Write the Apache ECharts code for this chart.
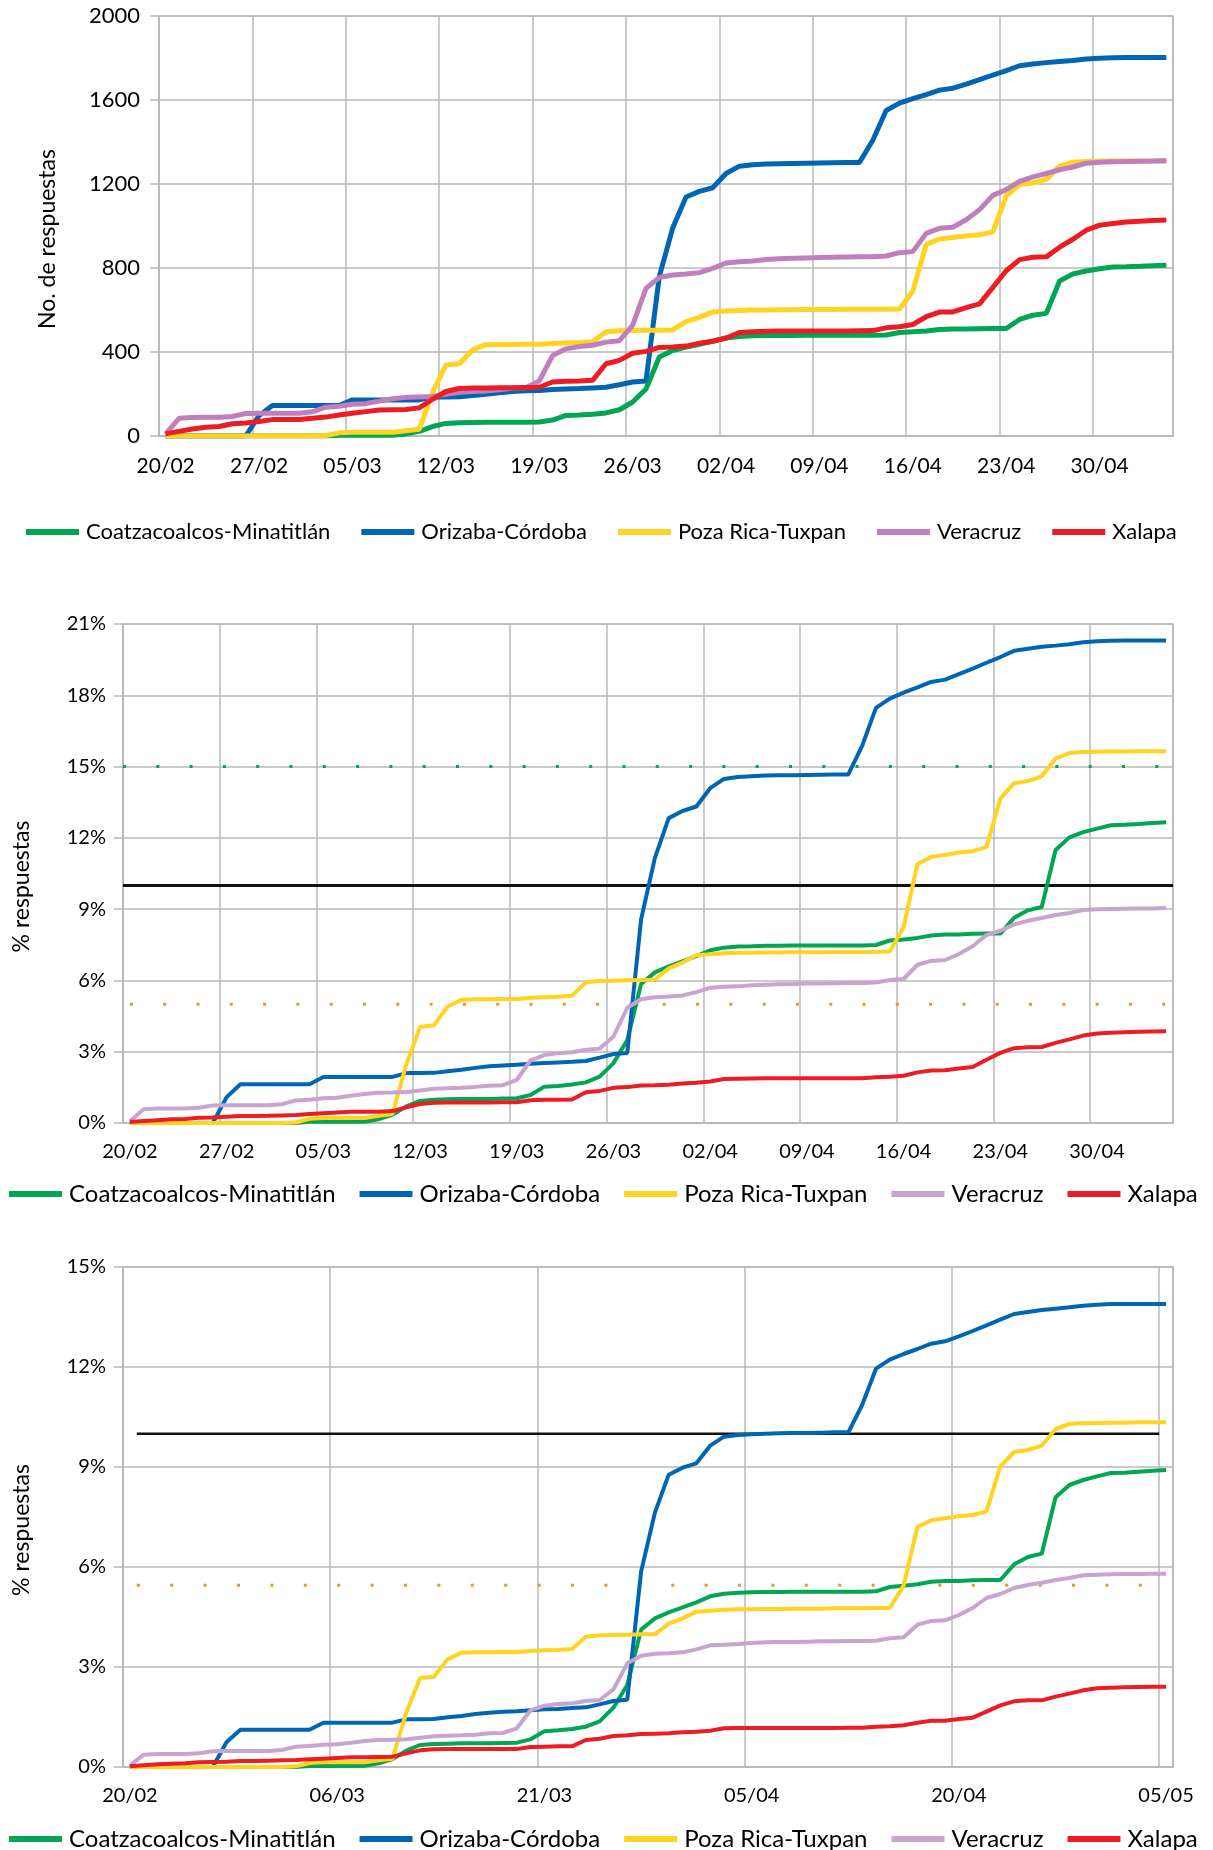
<!doctype html>
<html>
<head>
<meta charset="utf-8">
<title>Respuestas por región</title>
<script src="https://cdn.jsdelivr.net/npm/echarts@6/dist/echarts.min.js"></script>
<style>
  body { margin: 0; background: #fff; }
  .panel { position: absolute; left: 0; width: 1213px; }
</style>
</head>
<body>
<div id="g1" class="panel" style="top:0;height:560px"></div>
<div id="g2" class="panel" style="top:600px;height:620px"></div>
<div id="g3" class="panel" style="top:1220px;height:630px"></div>
<script>
var nombres = ['Coatzacoalcos-Minatitlán', 'Orizaba-Córdoba', 'Poza Rica-Tuxpan', 'Veracruz', 'Xalapa'];

var dias = ['20/02','21/02','22/02','23/02','24/02','25/02','26/02','27/02','28/02','29/02',
  '01/03','02/03','03/03','04/03','05/03','06/03','07/03','08/03','09/03','10/03',
  '11/03','12/03','13/03','14/03','15/03','16/03','17/03','18/03','19/03','20/03',
  '21/03','22/03','23/03','24/03','25/03','26/03','27/03','28/03','29/03','30/03',
  '31/03','01/04','02/04','03/04','04/04','05/04','06/04','07/04','08/04','09/04',
  '10/04','11/04','12/04','13/04','14/04','15/04','16/04','17/04','18/04','19/04',
  '20/04','21/04','22/04','23/04','24/04','25/04','26/04','27/04','28/04','29/04',
  '30/04','01/05','02/05','03/05','04/05','05/05'];

// No. de respuestas acumuladas
var respCoatza = [0,0,0,0,0,0,0,0,0,0, 0,0,0,3,3,3,3,4,10,22, 45,60,63,64,65,65,65,66,67,76,
  98,100,104,110,125,162,224,376,407,423, 437,451,467,474,477,478,479,479,480,480,
  480,480,480,480,481,493,496,500,507,509, 509,511,512,512,555,575,584,738,772,786,
  796,805,806,808,811,813];
var respOrizaba = [0,0,0,0,0,0,0,97,145,145, 145,145,145,145,172,172,172,172,172,172,
  186,186,187,193,199,206,212,215,217,221, 224,226,229,232,244,257,262,760,990,1138,
  1165,1182,1250,1285,1292,1295,1297,1298,1299,1300, 1301,1302,1302,1408,1550,1585,1607,1626,1647,1656,
  1676,1697,1719,1740,1763,1771,1778,1783,1788,1795, 1799,1801,1802,1802,1802,1802];
var respPoza = [0,0,0,0,0,0,0,0,0,0, 0,0,2,15,18,18,18,18,25,32,
  205,338,344,410,435,436,436,437,437,441, 443,445,449,496,501,502,503,504,505,545,
  565,591,595,598,600,600,601,601,602,602, 602,603,603,603,604,605,690,912,938,945,
  953,958,972,1143,1198,1205,1222,1285,1304,1307, 1308,1309,1309,1310,1310,1310];
var respVeracruz = [10,84,88,89,89,93,107,108,108,108, 108,115,137,142,151,154,166,177,184,186,
  188,199,208,212,214,220,228,230,262,383, 415,426,432,447,454,527,703,755,767,771,
  778,798,824,830,833,840,844,846,848,850, 851,852,853,854,857,873,878,965,989,994,
  1030,1078,1146,1173,1212,1234,1250,1268,1281,1299, 1304,1306,1307,1308,1309,1311];
var respXalapa = [10,22,33,42,45,58,62,69,78,78, 79,84,90,100,108,116,124,125,126,134,
  175,212,226,228,229,230,230,231,232,257, 261,262,265,344,360,394,403,422,424,428,
  442,451,466,493,497,499,500,500,500,500, 500,500,501,502,515,520,531,568,590,591,
  611,629,708,787,840,851,853,899,937,980, 1004,1012,1019,1023,1026,1028];

// % respuestas (segunda gráfica)
var pct2Coatza = [0,0,0,0,0,0,0,0,0,0, 0,0,0,0.05,0.05,0.05,0.05,0.06,0.16,0.34,
  0.70,0.93,0.98,1.00,1.01,1.01,1.01,1.03,1.04,1.18, 1.53,1.56,1.62,1.71,1.95,2.52,3.49,5.85,6.34,6.59,
  6.80,7.02,7.27,7.38,7.43,7.44,7.46,7.46,7.47,7.47, 7.47,7.47,7.47,7.47,7.49,7.68,7.72,7.79,7.89,7.93,
  7.93,7.96,7.97,7.97,8.64,8.95,9.09,11.49,12.02,12.24, 12.39,12.53,12.55,12.58,12.63,12.66];
var pct2Orizaba = [0,0,0,0,0,0,0,1.09,1.63,1.63, 1.63,1.63,1.63,1.63,1.94,1.94,1.94,1.94,1.94,1.94,
  2.10,2.10,2.11,2.18,2.24,2.32,2.39,2.42,2.45,2.49, 2.52,2.55,2.58,2.61,2.75,2.90,2.95,8.57,11.16,12.83,
  13.13,13.32,14.09,14.48,14.56,14.59,14.62,14.63,14.64,14.65, 14.66,14.67,14.67,15.87,17.47,17.86,18.11,18.33,18.56,18.66,
  18.89,19.12,19.37,19.61,19.87,19.96,20.04,20.09,20.15,20.23, 20.27,20.30,20.31,20.31,20.31,20.31];
var pct2Poza = [0,0,0,0,0,0,0,0,0,0, 0,0,0.02,0.18,0.21,0.21,0.21,0.21,0.30,0.38,
  2.45,4.04,4.11,4.90,5.19,5.21,5.21,5.22,5.22,5.27, 5.29,5.31,5.36,5.92,5.98,5.99,6.01,6.02,6.03,6.51,
  6.75,7.06,7.10,7.14,7.16,7.16,7.18,7.18,7.19,7.19, 7.19,7.20,7.20,7.20,7.21,7.22,8.24,10.89,11.20,11.28,
  11.38,11.44,11.61,13.65,14.30,14.39,14.59,15.34,15.57,15.61, 15.62,15.63,15.63,15.64,15.64,15.64];
var pct2Veracruz = [0.07,0.58,0.61,0.61,0.61,0.64,0.74,0.75,0.75,0.75, 0.75,0.79,0.95,0.98,1.04,1.06,1.15,1.22,1.27,1.28,
  1.30,1.37,1.44,1.46,1.48,1.52,1.57,1.59,1.81,2.64, 2.86,2.94,2.98,3.08,3.13,3.64,4.85,5.21,5.29,5.32,
  5.37,5.51,5.69,5.73,5.75,5.80,5.82,5.84,5.85,5.87, 5.87,5.88,5.89,5.89,5.91,6.02,6.06,6.66,6.82,6.86,
  7.11,7.44,7.91,8.09,8.36,8.51,8.63,8.75,8.84,8.96, 9.00,9.01,9.02,9.03,9.03,9.05];
var pct2Xalapa = [0.04,0.08,0.12,0.16,0.17,0.22,0.23,0.26,0.29,0.29, 0.30,0.32,0.34,0.38,0.41,0.44,0.47,0.47,0.47,0.50,
  0.66,0.80,0.85,0.86,0.86,0.86,0.86,0.87,0.87,0.96, 0.98,0.98,0.99,1.29,1.35,1.48,1.51,1.58,1.59,1.61,
  1.66,1.69,1.75,1.85,1.86,1.87,1.88,1.88,1.88,1.88, 1.88,1.88,1.88,1.88,1.93,1.95,1.99,2.13,2.21,2.22,
  2.29,2.36,2.66,2.95,3.15,3.19,3.20,3.37,3.52,3.68, 3.77,3.80,3.82,3.84,3.85,3.86];

// % respuestas (tercera gráfica)
var pct3Coatza = [0,0,0,0,0,0,0,0,0,0, 0,0,0,0.03,0.03,0.03,0.03,0.04,0.11,0.24,
  0.49,0.66,0.69,0.70,0.71,0.71,0.71,0.72,0.73,0.83, 1.07,1.10,1.14,1.21,1.37,1.78,2.46,4.12,4.46,4.64,
  4.79,4.94,5.12,5.20,5.23,5.24,5.25,5.25,5.26,5.26, 5.26,5.26,5.26,5.26,5.27,5.40,5.44,5.48,5.56,5.58,
  5.58,5.60,5.61,5.61,6.08,6.30,6.40,8.09,8.46,8.61, 8.72,8.82,8.83,8.86,8.89,8.91];
var pct3Orizaba = [0,0,0,0,0,0,0,0.75,1.12,1.12, 1.12,1.12,1.12,1.12,1.33,1.33,1.33,1.33,1.33,1.33,
  1.43,1.43,1.44,1.49,1.53,1.59,1.63,1.66,1.67,1.70, 1.73,1.74,1.77,1.79,1.88,1.98,2.02,5.86,7.63,8.77,
  8.98,9.11,9.64,9.91,9.96,9.98,10.00,10.01,10.02,10.02, 10.03,10.04,10.04,10.86,11.95,12.22,12.39,12.54,12.70,12.77,
  12.92,13.08,13.25,13.42,13.59,13.65,13.71,13.75,13.79,13.84, 13.87,13.89,13.89,13.89,13.89,13.89];
var pct3Poza = [0,0,0,0,0,0,0,0,0,0, 0,0,0.02,0.12,0.14,0.14,0.14,0.14,0.20,0.25,
  1.62,2.67,2.71,3.23,3.43,3.44,3.44,3.45,3.45,3.48, 3.50,3.51,3.54,3.91,3.95,3.96,3.97,3.98,3.98,4.30,
  4.46,4.66,4.69,4.72,4.73,4.73,4.74,4.74,4.75,4.75, 4.75,4.76,4.76,4.76,4.77,4.77,5.44,7.20,7.40,7.46,
  7.52,7.56,7.67,9.02,9.45,9.51,9.64,10.14,10.29,10.31, 10.32,10.33,10.33,10.34,10.34,10.34];
var pct3Veracruz = [0.04,0.37,0.39,0.39,0.39,0.41,0.47,0.48,0.48,0.48, 0.48,0.51,0.61,0.63,0.67,0.68,0.73,0.78,0.81,0.82,
  0.83,0.88,0.92,0.94,0.95,0.97,1.01,1.02,1.16,1.70, 1.84,1.89,1.91,1.98,2.01,2.33,3.11,3.34,3.40,3.41,
  3.44,3.53,3.65,3.67,3.69,3.72,3.74,3.75,3.75,3.76, 3.77,3.77,3.78,3.78,3.79,3.86,3.89,4.27,4.38,4.40,
  4.56,4.77,5.07,5.19,5.37,5.46,5.53,5.61,5.67,5.75, 5.77,5.78,5.79,5.79,5.80,5.80];
var pct3Xalapa = [0.02,0.05,0.08,0.10,0.11,0.14,0.15,0.16,0.18,0.18, 0.19,0.20,0.21,0.23,0.25,0.27,0.29,0.29,0.30,0.31,
  0.41,0.50,0.53,0.54,0.54,0.54,0.54,0.54,0.54,0.60, 0.61,0.62,0.62,0.81,0.85,0.93,0.95,0.99,1.00,1.01,
  1.04,1.06,1.09,1.16,1.17,1.17,1.17,1.17,1.17,1.17, 1.17,1.17,1.18,1.18,1.21,1.22,1.25,1.33,1.39,1.39,
  1.44,1.48,1.66,1.85,1.97,2.00,2.00,2.11,2.20,2.30, 2.36,2.38,2.39,2.40,2.41,2.41];

// lineas de referencia (%)
var meta2 = { negra: 10, verde: 15, naranja: 5 };
var meta3 = { negra: 10, naranja: 5.45 };

var fuente = 'Lato, "DejaVu Sans", sans-serif';
var gris = '#b8b8b8';
var tinta = '#000';
var coloresA = ['#00a651', '#0066b3', '#ffd320', '#bf7fbf', '#ed1c24'];
var coloresB = ['#00a651', '#0066b3', '#ffd320', '#c9a3d1', '#ed1c24'];

function lineaRef(desde, hasta, y, color, ancho, tipo) {
    return {
        type: 'line', xAxisIndex: 1, yAxisIndex: 0, silent: true,
        symbol: 'none', data: [[desde, y], [hasta, y]],
        lineStyle: { color: color, width: ancho, type: tipo, cap: 'butt' },
        z: 1
    };
}

function panel(id, c) {
    var chart = echarts.init(document.getElementById(id));
    var series = c.refs.slice();
    nombres.forEach(function (n, k) {
        series.push({
            name: n, type: 'line', data: c.datos[k], symbol: 'none',
            xAxisIndex: 0, yAxisIndex: 0, z: 3,
            lineStyle: { width: c.ancho, color: c.colores[k] },
            itemStyle: { color: c.colores[k] }
        });
    });
    chart.setOption({
        animation: false,
        grid: { left: c.grid[0], top: c.grid[1], width: c.grid[2], height: c.grid[3],
                show: true, borderColor: gris, borderWidth: 1.5 },
        legend: {
            data: nombres, left: c.leg[0], top: c.leg[1], itemGap: c.leg[2],
            icon: 'rect', itemWidth: 53, itemHeight: 6, selectedMode: false,
            textStyle: { fontFamily: fuente, fontSize: c.leg[3], color: tinta, padding: [0, 0, 0, 2] }
        },
        xAxis: [{
            type: 'category', data: dias, boundaryGap: true,
            axisLine: { lineStyle: { color: gris, width: 1.5 } },
            axisTick: { interval: c.cada, length: 9, lineStyle: { color: gris, width: 1.5 } },
            splitLine: { show: true, interval: c.cada, lineStyle: { color: gris, width: 1.5 } },
            axisLabel: { interval: c.cada, margin: c.mx, fontFamily: fuente, fontSize: c.fx, color: tinta }
        }, {
            type: 'value', min: 0, max: dias.length, show: false
        }],
        yAxis: {
            type: 'value', min: 0, max: c.ymax, interval: c.paso,
            name: c.titulo, nameLocation: 'middle', nameGap: c.gap,
            nameTextStyle: { fontFamily: fuente, fontSize: c.ft, color: tinta, padding: [0, 26, 0, 0] },
            axisLine: { show: true, lineStyle: { color: gris, width: 1.5 } },
            axisTick: { show: true, length: 9, lineStyle: { color: gris, width: 1.5 } },
            splitLine: { lineStyle: { color: gris, width: 1.5 } },
            axisLabel: { formatter: function (v) { return String(v) + c.suf; },
                         margin: c.my, fontFamily: fuente, fontSize: c.fy, color: tinta }
        },
        series: series
    });
}

panel('g1', {
    grid: [159, 16, 1014, 420], ymax: 2000, paso: 400, suf: '', cada: 6,
    titulo: 'No. de respuestas', gap: 100, ft: 23, fx: 21, fy: 22, mx: 20, my: 19,
    leg: [21, 516, 31, 22], ancho: 5, colores: coloresA, refs: [],
    datos: [respCoatza, respOrizaba, respPoza, respVeracruz, respXalapa]
});

panel('g2', {
    grid: [123, 24, 1050, 499], ymax: 21, paso: 3, suf: '%', cada: 6,
    titulo: '% respuestas', gap: 90, ft: 23, fx: 20, fy: 20, mx: 19, my: 17,
    leg: [4, 577, 24, 24], ancho: 4, colores: coloresB,
    refs: [
        lineaRef(0, 76, meta2.verde, '#00a651', 3, [3, 30.3]),
        lineaRef(0.5, 75.5, meta2.naranja, '#f7941d', 3, [3, 30.3]),
        lineaRef(0, 76, meta2.negra, '#111', 3, 'solid')
    ],
    datos: [pct2Coatza, pct2Orizaba, pct2Poza, pct2Veracruz, pct2Xalapa]
});

panel('g3', {
    grid: [123, 47, 1050, 500], ymax: 15, paso: 3, suf: '%', cada: 14,
    titulo: '% respuestas', gap: 90, ft: 23, fx: 20, fy: 20, mx: 19, my: 17,
    leg: [4, 602, 24, 24], ancho: 4, colores: coloresB,
    refs: [
        lineaRef(1, 75, meta3.naranja, '#f7941d', 3, [3, 30.4]),
        lineaRef(1, 75, meta3.negra, '#111', 2.5, 'solid')
    ],
    datos: [pct3Coatza, pct3Orizaba, pct3Poza, pct3Veracruz, pct3Xalapa]
});
</script>
</body>
</html>
